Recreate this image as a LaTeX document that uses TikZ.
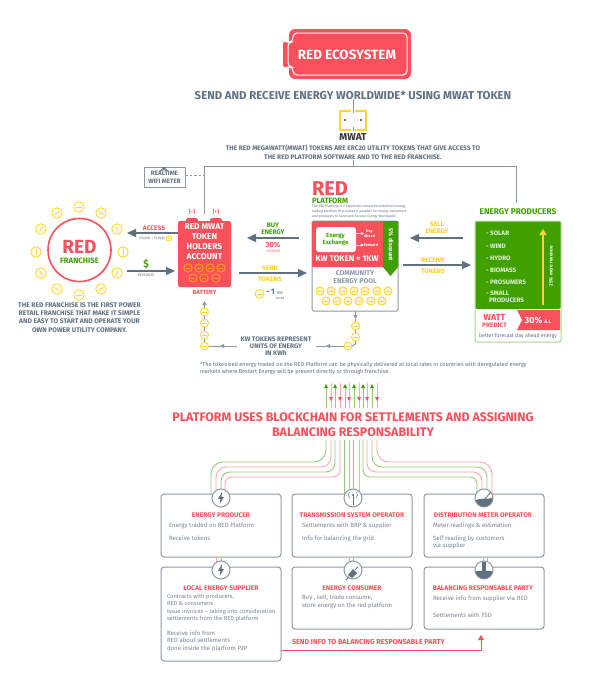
\documentclass[tikz,border=0pt]{standalone}
\usepackage{fontspec}
\setmainfont{Fira Sans}
\usetikzlibrary{arrows.meta,calc}
\definecolor{redc}{HTML}{F9505B}
\definecolor{greenc}{HTML}{3FA000}
\definecolor{grayc}{HTML}{5F7080}
\definecolor{lgray}{HTML}{8C99A5}
\definecolor{yellowc}{HTML}{FFD52E}
\definecolor{orangec}{HTML}{FF9F1C}
\definecolor{lgreen}{HTML}{A8D98A}
\definecolor{lred}{HTML}{FBA7AC}
\tikzset{
  x=1pt,y=-1pt,
  every node/.style={inner sep=0pt,outer sep=0pt,align=center},
  txt/.style={font=\fontsize{#1}{#1}\selectfont},
  btxt/.style={font=\fontsize{#1}{#1}\selectfont\bfseries},
  heavy/.style={draw=grayc,line width=1.4pt,-{Triangle[length=9pt,width=8pt]}},
  thinarrow/.style={draw=lgray,line width=1pt,-{Triangle[length=4pt,width=4pt]}},
  greyline/.style={draw=lgray,line width=1pt},
  stakeholder/.style={draw=lgray,line width=1pt,rounded corners=3pt,fill=white,anchor=north west},
  roundel/.style={circle,draw=lgray,line width=1pt,fill=white,minimum size=18pt},
  gline/.style={draw=greenc!55!white,line width=.9pt},
  rline/.style={draw=lred,line width=.9pt},
}
% x y radius angle ring fill
\newcommand{\chip}[6]{\draw[#5,line width=.9pt,fill=#6] (#1,#2) circle[radius=#3];
  \draw[#5,line width=.9pt] ($(#1,#2)+(#4:#3*.55)$) -- ($(#1,#2)+(#4+180:#3*.55)$);}
\begin{document}
\begin{tikzpicture}
\useasboundingbox (0,0) rectangle (589,675);
\fill[white] (0,0) rectangle (589,675);

% ---- logo
\fill[redc,rounded corners=6pt] (289,29) rectangle (411,79);
\fill[redc,rounded corners=2pt] (283,42) rectangle (292,67);
\draw[white,line width=1pt,rounded corners=4pt] (293,42) -- (293,33) -- (407,33) -- (407,75) -- (293,75) -- (293,67) -- (288,67) -- (288,42) -- cycle;
\node[btxt=13.4,text=white] (logo) at (347,55) {RED ECOSYSTEM};

\node[btxt=11.4,text=grayc] (headline) at (353,95) {SEND AND RECEIVE ENERGY WORLDWIDE* USING MWAT TOKEN};

% ---- MWAT token
\draw[yellowc,line width=2.6pt] (351,111) -- (340,111) -- (340,130) -- (351,130);
\draw[yellowc,line width=2.6pt] (355,111) -- (366,111) -- (366,130) -- (355,130);
\fill[black!75] (345,120) circle[radius=1.2];
\fill[black!75] (361,120) circle[radius=1.2];
\node[btxt=10,text=black!80] (mwat) at (353,137.5) {MWAT};
\coordinate (mwattop) at (353,113);
\draw[greyline] (headline.south -| mwattop) -- (mwattop);
\draw[greyline] (353,127) -- (353,131);
\node[btxt=6.6,text=grayc,align=center] (mwatdesc) at (353,152.5) {THE RED MEGAWATT(MWAT) TOKENS ARE ERC20 UTILITY TOKENS THAT GIVE ACCESS TO\\[2.1pt]THE RED PLATFORM SOFTWARE AND TO THE RED FRANCHISE.};

% ---- grey bus
\coordinate (busmid) at (353,166);
\coordinate (busl) at (204,166);
\coordinate (busr) at (516,166);
\draw[greyline] (mwatdesc.south -| busmid) -- (busmid);
\draw[greyline] (busl) -- (busr);

% ---- wifi meter
\node[draw=lgray,line width=1pt,minimum width=41pt,minimum height=20pt,btxt=6.3,text=grayc] (meter) at (164.5,177) {REALTIME\\[1.6pt]WIFI METER};
\foreach \r in {2.5,4.5,6.5}{\draw[grayc,line width=.8pt] ($(164,166)+(50:\r)$) arc[start angle=-50,end angle=-130,radius=\r];}
\coordinate (metertap) at (204,175);
\draw[lgray,line width=.8pt,dash pattern=on 2.5pt off 2pt] (meter.east |- metertap) -- (metertap);

% ---- franchise
\node[circle,draw=redc,line width=1.6pt,minimum size=63pt,fill=white] (franchise) at (79.5,250) {};
\node[btxt=19,text=redc] (frred) at (79.5,246.5) {RED};
\node[btxt=7.8,text=greenc] (frtxt) at (79.5,260.5) {FRANCHISE};
\foreach \x/\y/\a in {79/207/0,101/213/30,117/229/60,123/252/90,117/273/-60,101/289/-30,79/295/0,57/289/30,41/273/60,36/252/90,41/229/-60,57/213/-30}{
  \chip{\x}{\y}{5.2}{\a}{yellowc}{white}}
\node[btxt=6.7,text=grayc] (frdesc) at (79.5,317.5) {THE RED FRANCHISE IS THE FIRST POWER\\[1.6pt]RETAIL FRANCHISE THAT MAKE IT SIMPLE\\[1.6pt]AND EASY TO START AND OPERATE YOUR\\[1.6pt]OWN POWER UTILITY COMPANY.};

% ---- account
\fill[redc,rounded corners=1.5pt] (186,218) rectangle (198,224);
\fill[redc,rounded corners=1.5pt] (210,218) rectangle (222,224);
\node[fill=redc,rounded corners=2pt,minimum width=53pt,minimum height=66pt] (account) at (204.5,254) {};
\node[btxt=8.4,text=white] (acctxt) at (204.5,242) {RED MWAT\\[1.6pt]TOKEN\\[1.6pt]HOLDERS\\[1.6pt]ACCOUNT};
\node[btxt=5,text=redc] (minus) at (192,211.5) {[--]};
\node[btxt=5,text=redc] (plus) at (216,211.5) {[+]};
\foreach \x/\y in {188/268,199/268,210/268,221/268,193/278,204/278,216/278}{\chip{\x}{\y}{4.1}{0}{orangec}{redc}}
\node[btxt=6,text=redc] (battery) at (204.5,292) {BATTERY};
\draw[greyline] (minus.south -| busl) -- (busl);

% ---- access / revenue
\coordinate (accL) at (127,233); \coordinate (revR) at (175,271); \coordinate (revL) at (127,271);
\draw[heavy] (account.west |- accL) -- (accL);
\draw[heavy] (revL) -- (revR);
\node[btxt=6.6,text=redc] (access) at (154,228) {ACCESS};
\node[txt=3.4,text=grayc] (accnum) at (152,238) {(50,000 + 10,000)};
\chip{169}{238.5}{2.6}{0}{yellowc}{white}
\node[btxt=10,text=greenc] (dollar) at (146,264) {\$};
\node[txt=3.6,text=grayc] (revenues) at (146,275) {REVENUES};

% ---- platform
\node[btxt=20,text=redc,anchor=west] (plred) at (312,188.5) {RED};
\node[btxt=7.6,text=greenc,anchor=west] (plgreen) at (312,201) {PLATFORM};
\node[txt=3.4,text=grayc,anchor=west,align=left] (pldesc) at (312,212) {The RED Platform is a blockchain based decentralized energy\\[1.6pt]trading platform that makes it possible for energy consumers\\[1.6pt]and producers to Send and Receive Energy Worldwide!};
\node[draw=lgray,line width=1pt,rounded corners=1.5pt,fill=white,minimum width=86pt,minimum height=90pt] (pool) at (355,266) {};
\fill[redc,rounded corners=1pt] (312,221) rectangle (398,267);
\fill[greenc] (383,221) -- (398,221) -- (398,267) -- (390.5,276) -- (383,267) -- cycle;
\node[btxt=5.8,text=white,rotate=-90] (ribbon) at (391,245) {5\% discount};
\node[fill=white,rounded corners=3pt,minimum width=40pt,minimum height=25pt] (exch) at (336,239.5) {};
\node[btxt=6,text=greenc] (exchtxt) at (335.5,239.5) {Energy\\[1.2pt]Exchange};
\node[btxt=3.8,text=white,anchor=west] (day) at (364,233.5) {Day\\[.8pt]Ahead};
\node[btxt=3.8,text=white,anchor=west] (fwd) at (364,245) {Forward};
\draw[white,line width=.7pt,-{Triangle[length=3pt,width=3pt]}] (exch.east |- day) -- (day.west);
\draw[white,line width=.7pt,-{Triangle[length=3pt,width=3pt]}] (exch.east |- fwd) -- (fwd.west);
\node[btxt=8.2,text=white] (kw) at (347,259) {KW TOKEN = 1KW};
\node[btxt=6.9,text=lgray] (cep) at (355,277) {COMMUNITY\\[1.2pt]ENERGY POOL};
\foreach \x in {320,331,343,354,365,377,388}{\chip{\x}{291}{4.1}{0}{yellowc}{yellowc!25}}
\foreach \x in {326,337,348,359,371,382}{\chip{\x}{301}{4.1}{0}{yellowc}{yellowc!25}}

% ---- buy / send
\coordinate (buyR) at (299,238); \coordinate (buyL) at (247,238); \coordinate (sendL) at (239,273); \coordinate (sendR) at (307,273);
\draw[heavy] (buyR) -- (buyL);
\draw[heavy] (sendL) -- (sendR);
\node[btxt=6.6,text=greenc] (buy) at (273,228.5) {BUY\\[.6pt]ENERGY};
\node[btxt=7.5,text=redc] (pct) at (273,245) {30\%};
\node[txt=3.4,text=redc] (cheaper) at (273,251) {CHEAPER};
\node[btxt=6.6,text=yellowc!90!orange] (send) at (270,268) {SEND};
\node[btxt=6.6,text=yellowc!90!orange] (tokens) at (270,279) {TOKENS};
\chip{259.5}{294}{4.4}{0}{yellowc}{white}
\node[btxt=8,text=grayc,anchor=west] (onekw) at (266,292) {- 1};
\node[txt=4.2,text=grayc,anchor=west] (kwsmall) at (277,293) {KW};
\node[txt=3,text=grayc] (kwtok) at (280,298) {TOKEN};

% ---- sell / receive
\coordinate (sellR) at (463,238); \coordinate (sellL) at (410,238);
\coordinate (recL) at (403,265); \coordinate (recR) at (471,265);
\draw[heavy] (sellR) -- (sellL);
\draw[heavy] (recL) -- (recR);
\node[btxt=6.6,text=yellowc!90!orange] (sell) at (437,228) {SELL\\[.6pt]ENERGY};
\node[btxt=6.6,text=yellowc!90!orange] (receive) at (433,260) {RECEIVE};
\node[btxt=6.6,text=yellowc!90!orange] (rectok) at (433,271.5) {TOKENS};

% ---- producers
\node[btxt=8.3,text=greenc] (prodtitle) at (518,212) {ENERGY PRODUCERS};
\node[draw=lgreen,line width=1pt,rounded corners=2pt,fill=white,minimum width=86pt,minimum height=121pt] (prod) at (518,281.5) {};
\fill[greenc,rounded corners=1.5pt] (475.5,221.5) rectangle (560.5,309);
\fill[redc] (517,310) -- (560,310) -- (560,330) -- (517,330) -- (522,320) -- cycle;
\foreach \y/\t in {233/SOLAR,246/WIND,258/HYDRO,270/BIOMASS,282/PROSUMERS}{
  \node[btxt=6.4,text=white!85!greenc,anchor=west] at (486,\y) {- \t};}
\node[btxt=6.4,text=white!85!greenc,anchor=north west,align=left] (small) at (486,291) {- SMALL\\[.4pt]\ \ PRODUCERS};
\coordinate (yb) at (543,305); \coordinate (yt) at (543,229);
\draw[yellowc,line width=1.6pt,-{Triangle[length=6pt,width=7pt]}] (yb) -- (yt);
\node[btxt=4.8,text=white,rotate=90] (rev) at (551,266) {25\% more revenue};
\node[btxt=8.8,text=redc] (watt) at (494.5,317) {WATT};
\node[btxt=6.5,text=redc] (predict) at (494.5,325) {PREDICT};
\node[btxt=9,text=white] (ai) at (538,320) {30\% {\fontsize{5}{5}\selectfont A.I.}};
\node[txt=5.2,text=grayc] (forecast) at (518,336) {better forecast day ahead energy};
\draw[greyline] (prod.north -| busr) ++(0,-18) -- (busr);

% ---- token chains
\foreach \y in {312,323,335,346}{\chip{204.5}{\y}{4}{0}{yellowc}{white}}
\coordinate (lc) at (204.5,308);
\draw[thinarrow] (lc) -- (204.5,301);
\draw[greyline] (204.5,316) -- (204.5,319); \draw[greyline] (204.5,327) -- (204.5,331); \draw[greyline] (204.5,339) -- (204.5,342);
\node[btxt=6.6,text=grayc] (kwrep) at (276,346) {KW TOKENS REPRESENT\\[.4pt]UNITS OF ENERGY\\[.4pt]IN KWh};
\coordinate (lcr) at (208.5,346);
\draw[greyline] (237,346) -- (lcr);
\coordinate (lctip) at (220,346);
\draw[thinarrow] (226,346) -- (lctip);
\draw[thinarrow] (pool.south -| 355.5,0) -- (355.5,319);
\draw[greyline] (355.5,319) -- (355.5,322);
\chip{355.5}{326}{4}{0}{yellowc}{white}
\chip{355.5}{337}{4}{0}{yellowc}{white}
\chip{348}{346}{4}{0}{yellowc}{white}
\draw[greyline] (355.5,330) -- (355.5,333);
\draw[greyline] (355.5,341) -- (355.5,344) -- (352,346);
\draw[greyline] (344,346) -- (316,346);
\draw[thinarrow] (332,346) -- (326,346);

\node[txt=5.6,text=grayc,anchor=north west,align=left] (foot) at (200,362) {*The tokenized energy traded on the RED Platform can be physically delivered at local rates in countries with deregulated energy\\[1.8pt]markets where Restart Energy will be present directly or through franchise.};

% ---- blockchain arrows
\foreach \x in {326,335,345,354,363,372}{
  \draw[gline] (\x,408) -- (\x,386);
  \fill[greenc] (\x-2,388) -- (\x+2,388) -- (\x,384) -- cycle;}
\foreach \x in {331,340,349,359,367,377}{
  \draw[rline] (\x,383) -- (\x,408);
  \fill[redc] (\x-2,397) -- (\x+2,397) -- (\x,401) -- cycle;}
\node[btxt=12.4,text=redc] (chain) at (353,424.5) {PLATFORM USES BLOCKCHAIN FOR SETTLEMENTS AND ASSIGNING\\[2.6pt]BALANCING RESPONSABILITY};

% ---- stakeholder boxes
\node[stakeholder,minimum width=120pt,minimum height=63pt] (b1) at (161,494) {};
\node[stakeholder,minimum width=120pt,minimum height=63pt] (b2) at (292,494) {};
\node[stakeholder,minimum width=120pt,minimum height=63pt] (b3) at (424,494) {};
\node[stakeholder,minimum width=120pt,minimum height=94pt] (b4) at (161,567) {};
\node[stakeholder,minimum width=120pt,minimum height=62pt] (b5) at (292,567) {};
\node[stakeholder,minimum width=120pt,minimum height=62pt] (b6) at (424,567) {};

% ---- buses down
\draw[gline,rounded corners=12pt] (326,440) -- (326,462) -- (211,462) -- (b1.north -| 211,0);
\draw[rline,rounded corners=10pt] (331,440) -- (331,467) -- (216,467) -- (b1.north -| 216,0);
\draw[gline,rounded corners=9pt] (335,440) -- (335,472) -- (221,472) -- (b1.north -| 221,0);
\draw[rline,rounded corners=7pt] (340,440) -- (340,477) -- (225,477) -- (b1.north -| 225,0);
\foreach \x/\s in {344/gline,349/rline,353/gline,359/rline}{\draw[\s] (\x,440) -- (b2.north -| \x,0);}
\draw[rline,rounded corners=12pt] (377,440) -- (377,462) -- (492,462) -- (b3.north -| 492,0);
\draw[gline,rounded corners=10pt] (372,440) -- (372,467) -- (487,467) -- (b3.north -| 487,0);
\draw[rline,rounded corners=9pt] (367,440) -- (367,472) -- (482,472) -- (b3.north -| 482,0);
\draw[gline,rounded corners=7pt] (363,440) -- (363,477) -- (477,477) -- (b3.north -| 477,0);
\foreach \x/\s/\a/\b in {216/rline/b1/b4,221/gline/b1/b4,349/rline/b2/b5,353/gline/b2/b5,483/rline/b3/b6,487/gline/b3/b6}{
  \draw[\s] (\a.south -| \x,0) -- (\b.north -| \x,0);}

% ---- roundels with glyphs
\node[roundel] (r1) at (221,498) {};
\node[roundel] (r2) at (353,498) {};
\node[roundel] (r3) at (484,498) {};
\node[roundel] (r4) at (221,570) {};
\node[roundel] (r5) at (353,570) {};
\node[roundel] (r6) at (484,570) {};
\fill[grayc] (222,492) -- (218,499) -- (220.5,499) -- (219.5,504) -- (224,497) -- (221.5,497) -- cycle;
\fill[grayc] (222,564) -- (218,571) -- (220.5,571) -- (219.5,576) -- (224,569) -- (221.5,569) -- cycle;
\draw[grayc,line width=.8pt] (353,495) -- (353,505);
\fill[grayc] (353,495) circle[radius=1.2];
\draw[grayc,line width=.6pt] (349.5,492) -- (348.5,495) -- (349.5,498);
\draw[grayc,line width=.6pt] (356.5,492) -- (357.5,495) -- (356.5,498);
\begin{scope}
\clip (484,498) circle[radius=8.6];
\fill[grayc] (474,502) .. controls (480,496) and (486,501) .. (494,497) -- (494,510) -- (474,510) -- cycle;
\end{scope}
\draw[grayc,line width=.8pt] (484,500) -- (491,492);
\fill[grayc] (348,575) -- (353,569) -- (357,573) -- (352,578) -- cycle;
\draw[grayc,line width=.8pt] (355,570) -- (358,566.5);
\draw[grayc,line width=.8pt] (349,576.5) -- (346,580);
\begin{scope}
\clip (484,570) circle[radius=8.6];
\fill[grayc] (476,571) rectangle (492,582);
\fill[grayc] (482,562) rectangle (486,572);
\end{scope}

% ---- stakeholder text
\tikzset{stitle/.style={btxt=6.7,text=redc},sbody/.style={txt=6.1,text=grayc!85,anchor=west,align=left}}
\node[stitle] (t1) at (221,515) {ENERGY PRODUCER};
\node[stitle] (t2) at (352,515) {TRANSMISSION SYSTEM OPERATOR};
\node[stitle] (t3) at (483,515) {DISTRIBUTION METER OPERATOR};
\node[stitle] (t4) at (221,588) {LOCAL ENERGY SUPPLIER};
\node[stitle] (t5) at (352,588) {ENERGY CONSUMER};
\node[stitle] (t6) at (483,588) {BALANCING RESPONSABLE PARTY};
\node[sbody] (s1a) at (169,525.5) {Energy traded on RED Platform};
\node[sbody] (s1b) at (169,538.5) {Receive tokens};
\node[sbody] (s2a) at (302,525.5) {Settlements with BRP \& supplier};
\node[sbody] (s2b) at (302,538.5) {Info for balancing the grid};
\node[sbody] (s3a) at (433,525.5) {Meter readings \& estimation};
\node[sbody] (s3b) at (433,542.5) {Self reading by customers\\[1.4pt]via supplier};
\node[sbody,txt=5.8] (s4a) at (167,608) {Contracts with producers,\\[1.6pt]RED \& consumers\\[1.6pt]Issue invoices -- taking into consideration\\[1.6pt]settlements from the RED platform};
\node[sbody] (s4b) at (167,641) {Receive info from\\[1.4pt]RED about settlements\\[1.4pt]done inside the platform P2P};
\node[sbody] (s5a) at (302,602) {Buy , sell, trade consume,\\[1.4pt]store energy on the red platform};
\node[sbody] (s6a) at (433,598.5) {Receive info from supplier via RED};
\node[sbody] (s6b) at (433,615) {Settlements with TSO};

% ---- send info
\node[btxt=7.15,text=redc,anchor=west] (sendinfo) at (292,642) {SEND INFO TO BALANCING RESPONSABLE PARTY};
\coordinate (bend) at (481,650);
\coordinate (bendtip) at (481,635);
\draw[redc,line width=1pt,-{Triangle[length=5pt,width=6pt]}] (b4.east |- bend) -- (bend) -- (bendtip);
\end{tikzpicture}
\end{document}
